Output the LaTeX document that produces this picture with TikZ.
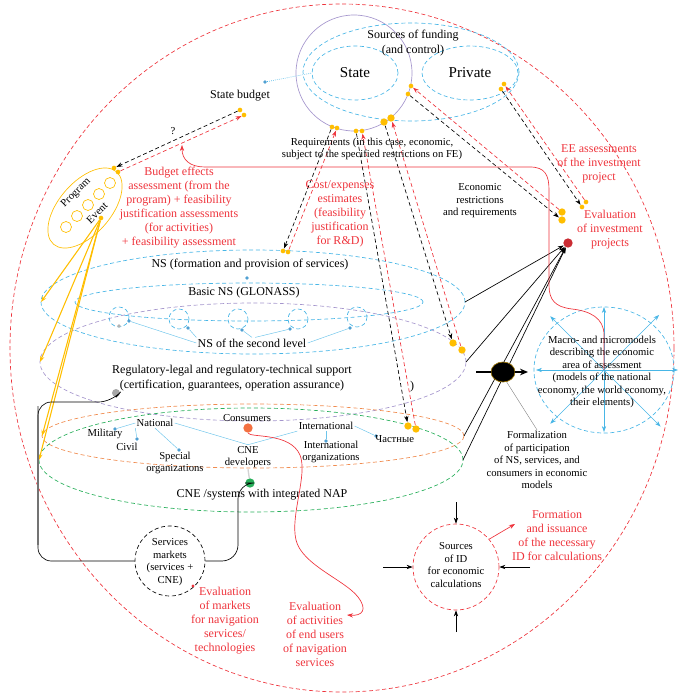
\documentclass[tikz,border=0pt]{standalone}
\usepackage{fontspec}
\setmainfont{Liberation Serif}
\usepackage{xcolor}
\usepackage{tikz}
\usetikzlibrary{shapes.geometric,arrows.meta}

\definecolor{redc}{RGB}{238,52,60}
\definecolor{bluec}{RGB}{72,182,230}
\definecolor{purplec}{RGB}{165,150,205}
\definecolor{orangec}{RGB}{240,140,80}
\definecolor{greenc}{RGB}{40,175,90}
\definecolor{yellowc}{RGB}{255,190,0}
\definecolor{dotblue}{RGB}{80,160,210}

\tikzset{
  dsh/.style={dash pattern=on 3pt off 2pt},
  ell/.style={ellipse, inner sep=0pt, outer sep=0pt},
  arr/.style={-{Stealth[length=4.5pt,width=3.2pt]}},
  lbl/.style={inner sep=0.75pt, align=center, font=\fontsize{8}{9.4}\selectfont},
  lblm/.style={inner sep=0.75pt, align=center, font=\fontsize{9}{11.2}\selectfont},
  lblr/.style={inner sep=0.75pt, align=center, text=redc, font=\fontsize{9}{10.5}\selectfont},
  lblbig/.style={font=\fontsize{11.3}{13}\selectfont},
  ydot/.style={circle, fill=yellowc, inner sep=0pt, minimum size=3.5pt},
  ydotb/.style={ydot, minimum size=5.5pt},
  bdot/.style={circle, fill=dotblue, inner sep=0pt, minimum size=2.8pt},
  blk/.style={black, dsh, arr},
  rdd/.style={redc, dsh, arr},
  net/.style={bluec!80, line width=0.35pt}
}

\begin{document}
\begin{tikzpicture}[x=0.75pt,y=0.75pt,yscale=-1,xscale=1, line width=0.5pt]
\path[use as bounding box] (0,0) rectangle (685,693);

%Shape: Ellipse [outer boundary]
\draw[redc, dsh] (342,348) ellipse [x radius=332, y radius=344];

%Shape: Circle and ellipses [sources of funding]
\draw[purplec] (354,73) circle [radius=58];
\node[ell, draw=bluec, dsh, minimum width=162pt, minimum height=73.5pt] (srcf) at (411,72) {};
\node[ell, draw=bluec, dsh, minimum width=64.5pt, minimum height=40.5pt, lblbig] (stin) at (355,73) {State};
\node[ell, draw=bluec, dsh, minimum width=72pt, minimum height=40.5pt, lblbig] (prv) at (470,73) {Private};
% Text Node
\node[lblm] (srct) at (413,43) {Sources of funding\\(and control)};

% State budget
\node[lblm] (sbt) at (240,96) {State budget};
\node[bdot] (sbd) at (265,82) {};
\draw[bluec, densely dotted] (sbd) -- (stin.west);

%Shape: Ellipse [program]
\node[ell, draw=yellowc, minimum width=72pt, minimum height=39pt, rotate=49] (prog) at (85,208) {};
\foreach \i in {0,...,4}
  \draw[yellowc] ({110-11*\i},{183+11*\i}) circle [radius=5.5];
\node[lbl, rotate=45] (prgt) at (76,193) {Program};
\node[lbl, rotate=45] (evt) at (97,213) {Event};
\node[ydot] (ev0) at (101,218) {};

%Shape: Ellipses [layers]
\node[ell, draw=bluec, dsh, minimum width=318pt, minimum height=78pt] (ns) at (253,302) {};
\node[ell, draw=bluec, dsh, minimum width=261pt, minimum height=28.5pt] (bns) at (249,302) {};
\node[ell, draw=purplec, dsh, minimum width=319.5pt, minimum height=88.5pt] (reg) at (253,362) {};
\node[ell, draw=orangec, dsh, minimum width=316.5pt, minimum height=48pt] (cons) at (253,436) {};
\node[ell, draw=greenc, dsh, minimum width=318pt, minimum height=78pt] (cne) at (251,460) {};

% yellow arrows from the event
\foreach \t in {ns,reg,cons,cne}
  \draw[yellowc, line width=0.8pt, arr] (ev0) -- (\t.west);

% NS labels
\node[lblm] (nst) at (250,265) {NS (formation and provision of services)};
\node[bdot] (nsd) at (247,278) {};
\node[lblm] (bnst) at (244,293) {Basic NS (GLONASS)};
\foreach \x/\y in {119/317,179/319,238/319,298/319,357/317}
  \draw[bluec, dsh] (\x,\y) circle [radius=10];
\node[lblm] (nsl) at (252,343) {NS of the second level};
\node[circle, fill=gray!60, inner sep=0pt, minimum size=2.8pt] (s0) at (119,326) {};
\node[bdot] (s1) at (129,321) {};
\node[bdot] (s2) at (188,328) {};
\node[bdot] (s3) at (242,330) {};
\node[bdot] (s4) at (290,329) {};
\node[bdot] (s5) at (350,328) {};
\draw[net] (s1) -- (nsl.west);
\draw[net] (s2) -- (nsl.north west);
\draw[net] (s3) -- (nsl.north);
\draw[net] (s4) -- (nsl.60);
\draw[net] (s5) -- (nsl.east);

% Regulatory support
\node[lblm] (regt) at (232,378) {Regulatory-legal and regulatory-technical support\\(certification, guarantees, operation assurance)};
\node[lblm] (brk) at (412,387) {)};
\node[circle, fill=gray!70, inner sep=0pt, minimum size=6pt] (gd) at (116,393) {};

% participants
\node[lbl] (nat) at (155,423) {National};
\node[lbl] (mil) at (105,434) {Military};
\node[lbl] (civ) at (127,447) {Civil};
\node[lbl] (spo) at (175,463) {Special\\organizations};
\node[bdot] (mild) at (115,429) {};
\node[bdot] (civd) at (137,439) {};
\node[bdot] (spod) at (179,450) {};
\draw[net] (mild) -- (nat.west);
\draw[net] (civd) -- (nat.south west);
\draw[net] (spod) -- (nat.south);
\node[lbl] (cnedev) at (248,457) {CNE\\developers};
\draw[net] (nat.east) -- (cnedev.north);
\node[lbl] (int) at (326,426) {International};
\draw[net] (cnedev.north) -- (int.south west);
\node[lbl] (into) at (331,452) {International\\organizations};
\node[bdot] (intod) at (326,441) {};
\draw[net] (intod) -- (int.south);
\node[bdot] (chsd) at (376,436) {};
\node[lbl, anchor=west] (chs) at (374,439) {Частные};
\draw[net] (int.east) -- (chsd);

\node[lbl] (cot) at (247,418) {Consumers};
\node[circle, fill=orangec!80!red, inner sep=0pt, minimum size=7pt] (co) at (248,428) {};

% CNE
\node[circle, fill=greenc, inner sep=0pt, minimum size=7pt] (gn) at (250,483) {};
\draw[gray!35, line width=1pt] (cnedev.south) -- (gn);
\node[lblm] (cnet) at (262,495) {CNE /systems with integrated NAP};

% Services markets
\node[circle, draw, dsh, inner sep=0pt, minimum size=52.5pt] (mk) at (170,561) {};
\node[lbl] (mkt) at (170,562) {Services\\markets\\(services +\\CNE)};
\node[circle, fill=redc, inner sep=0pt, minimum size=2.5pt] (mkd) at (193,586) {};
\draw[gray!60, line width=1.3pt] (38,406) -- (38,545);
\draw[rounded corners=10pt] (gd.south) -- (112,402) -- (38,402) -- (38,561) -- (mk.west);
\draw[rounded corners=12pt] (mk.east) -- (238,561) -- (238,483) -- (gn.west);

% black dashed / red dashed pairs
\node[ydot] (a1) at (240,110) {};
\node[ydot] (a4) at (244,115) {};
\node[ydot] (a2) at (114,168) {};
\node[ydot] (a3) at (118,172) {};
\draw[blk] (a1) -- (a2);
\draw[rdd] (a3) -- (a4);
\node[lbl] (qm) at (173,131) {?};

\node[ydot] (b1) at (332,127) {};
\node[ydot] (b4) at (337,128) {};
\node[ydot] (b2) at (283,251) {};
\node[ydot] (b3) at (288,252) {};
\draw[blk] (b1) -- (b2);
\draw[rdd] (b3) -- (b4);

\node[ydot] (c1) at (356,131) {};
\node[ydot] (c4) at (362,131) {};
\node[ydotb] (c2) at (408,426) {};
\node[ydotb] (c3) at (416,429) {};
\draw[blk] (c1) -- (c2);
\draw[rdd] (c3) -- (c4);

\node[ydotb] (d1) at (384,122) {};
\node[ydotb] (d4) at (391,118) {};
\node[ydotb] (d2) at (453,343) {};
\node[ydotb] (d3) at (462,350) {};
\draw[blk] (d1) -- (d2);
\draw[rdd] (d3) -- (d4);

\node[ydot] (e1) at (408,94) {};
\node[ydot] (e4) at (411,86) {};
\node[ydotb] (e2) at (562,220) {};
\node[ydotb] (e3) at (562,212) {};
\draw[blk] (e1) -- (e2);
\draw[rdd] (e3) -- (e4);

\node[ydot] (f1) at (501,89) {};
\node[ydot] (f4) at (504,84) {};
\node[ydot] (f2) at (582,207) {};
\node[ydot] (f3) at (586,202) {};
\draw[blk] (f1) -- (f2);
\draw[rdd] (f3) -- (f4);

% Text Nodes
\node[lbl] (reqt) at (372,149) {Requirements (in this case, economic,\\subject to the specified restrictions on FE)};
\node[lblr] (bet) at (179,208) {Budget effects\\assessment (from the\\program) + feasibility\\justification assessments\\(for activities)\\+ feasibility assessment};
\node[lblr] (cet) at (340,214) {Cost/expenses\\estimates\\(feasibility\\justification\\for R\&D)};
\node[lbl] (ecr) at (480,201) {Economic\\restrictions\\and requirements};
\node[lblr] (eet) at (599,164) {EE assessments\\of the investment\\project};
\node[lblr] (eit) at (610,230) {Evaluation\\of investment\\projects};

% evaluation of investment projects
\node[circle, fill=redc!85!black, inner sep=0pt, minimum size=7pt] (ev) at (568,243) {};
\foreach \n in {ns,reg,cons,cne}
  \draw[arr] (\n.east) -- (ev);

% formalization
\node[ellipse, fill=black, draw=yellowc!60!black, inner sep=0pt, minimum width=18pt, minimum height=15pt] (fz) at (503,372) {};
\coordinate (fzin) at (476,372);
\coordinate (fzout) at (528,372);
\draw[line width=1.5pt] (fzin) -- (fz.west);
\draw[line width=1.5pt, -{Stealth[length=6pt,width=5pt]}] (fz.east) -- (fzout);
\node[lbl] (fzt) at (537,460) {Formalization\\of participation\\of NS, services, and\\consumers in economic\\models};
\draw[gray, line width=0.3pt] (fz.290) -- (fzt.north);

% macro- and micromodels
\node[ell, draw=bluec, dsh, minimum width=105pt, minimum height=94.5pt] (mc) at (604,370) {};
\foreach \a/\r in {0/74,45/80,90/62,135/76,180/68,225/76,270/63,315/78}
  \draw[bluec, arr] (mc.center) -- ++(\a:\r);
\node[lbl] (mct) at (602,372) {Macro- and micromodels\\describing the economic\\area of assessment\\(models of the national\\economy, the world economy,\\their elements)};

% red feedback curves
\coordinate (bfx) at (182,145);
\draw[redc, arr] (mc.center) -- (604,335) .. controls (604,318) and (590,311) .. (572,309)
  .. controls (555,307) and (549,300) .. (549,285) -- (549,190)
  .. controls (549,175) and (545,167) .. (530,167) -- (205,167)
  .. controls (190,167) and (182,160) .. (bfx);
\coordinate (eau) at (347,615);
\draw[redc, arr] (co.south) .. controls (250,438) and (290,432) .. (300,455)
  .. controls (308,475) and (290,515) .. (296,540)
  .. controls (302,565) and (345,580) .. (358,597)
  .. controls (368,610) and (362,616) .. (eau);

% evaluation labels
\node[lblr] (emk) at (225,621) {Evaluation\\of markets\\for navigation\\services/\\technologies};
\node[lblr] (eac) at (315,634) {Evaluation\\of activities\\of end users\\of navigation\\services};

% sources of ID
\node[circle, draw=redc, dsh, inner sep=0pt, minimum size=64.5pt] (id) at (456,567) {};
\node[lbl] (idt) at (456,565) {Sources\\of ID\\for economic\\calculations};
\coordinate (idn) at (456,502);
\coordinate (idw) at (383,567);
\coordinate (ide) at (530,567);
\coordinate (ids) at (456,632);
\coordinate (idr) at (515,524);
\draw[arr] (idn) -- (id.north);
\draw[arr] (idw) -- (id.west);
\draw[arr] (ide) -- (id.east);
\draw[arr] (ids) -- (id.south);
\draw[redc, arr] (id.40) -- (idr);
\node[lblr] (idf) at (557,536) {Formation\\and issuance\\of the necessary\\ID for calculations};

\end{tikzpicture}
\end{document}
